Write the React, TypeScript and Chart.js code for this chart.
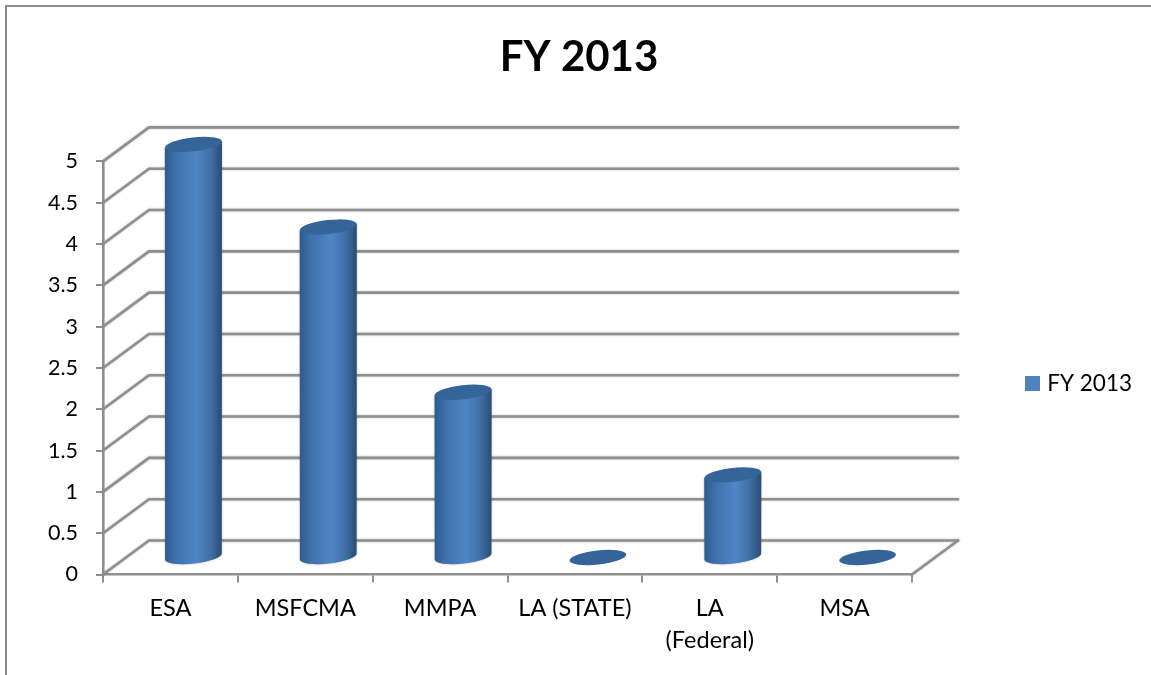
import React, { useEffect, useRef } from "react";
import { Chart, registerables } from "chart.js";

Chart.register(...registerables);

const categories: (string | string[])[] = ["ESA", "MSFCMA", "MMPA", "LA (STATE)", ["LA", "(Federal)"], "MSA"];
const values = [5, 4, 2, 0, 1, 0];
const seriesName = "FY 2013";
const titleText = "FY 2013";
const yMax = 5;
const yStep = 0.5;

const FONT = "Lato, Carlito, 'Open Sans', sans-serif";
const GRID = "#8f8f8f";
const DEPTH_X = 46;
const DEPTH_Y = 34;

const frame3d = {
  id: "frame3d",
  beforeDraw(chart: any) {
    const { ctx, width, height } = chart;
    ctx.save();
    ctx.fillStyle = "#fff";
    ctx.fillRect(0, 0, width, height);
    ctx.strokeStyle = "#8c8c8c";
    ctx.lineWidth = 2;
    ctx.beginPath();
    ctx.moveTo(6, height);
    ctx.lineTo(6, 6);
    ctx.lineTo(width, 6);
    ctx.stroke();
    ctx.restore();
  },
  afterLayout(chart: any) {
    const lg = chart.legend;
    if (lg) {
      lg.top += 46;
      lg.bottom += 46;
    }
  },
  beforeDatasetsDraw(chart: any) {
    const { ctx, scales } = chart;
    const y = scales.y;
    const x = scales.x;
    const left = x.left;
    const right = x.right;
    ctx.save();
    ctx.strokeStyle = GRID;
    ctx.lineWidth = 2.6;
    ctx.lineCap = "round";
    ctx.shadowColor = "rgba(120,120,120,0.5)";
    ctx.shadowBlur = 2;
    for (const t of y.ticks) {
      const py = y.getPixelForValue(t.value);
      ctx.beginPath();
      ctx.moveTo(left, py);
      ctx.lineTo(left + DEPTH_X, py - DEPTH_Y);
      ctx.lineTo(right + DEPTH_X, py - DEPTH_Y);
      ctx.stroke();
    }
    const p0 = y.getPixelForValue(0);
    ctx.beginPath();
    ctx.moveTo(right, p0);
    ctx.lineTo(right + DEPTH_X, p0 - DEPTH_Y);
    ctx.stroke();
    ctx.restore();

    const meta = chart.getDatasetMeta(0);
    const rot = (-6.4 * Math.PI) / 180;
    const ry = 7;
    meta.data.forEach((bar: any) => {
      const rx = bar.width / 2;
      const cx = bar.x + DEPTH_X / 2;
      const topY = bar.y - DEPTH_Y / 2;
      const baseY = bar.base - DEPTH_Y / 2;
      const dy = rx * Math.sin(rot);
      ctx.save();
      if (baseY - topY > 0.5) {
        const g = ctx.createLinearGradient(cx - rx, 0, cx + rx, 0);
        g.addColorStop(0, "#2f5b8d");
        g.addColorStop(0.2, "#3f72ad");
        g.addColorStop(0.55, "#4f85c6");
        g.addColorStop(0.8, "#3f6fa6");
        g.addColorStop(1, "#2b4c72");
        ctx.shadowColor = "rgba(90,90,90,0.55)";
        ctx.shadowBlur = 2;
        ctx.fillStyle = g;
        ctx.beginPath();
        ctx.ellipse(cx, baseY, rx, ry, rot, 0, Math.PI);
        ctx.lineTo(cx - rx, topY - dy);
        ctx.lineTo(cx + rx, topY + dy);
        ctx.closePath();
        ctx.fill();
        ctx.shadowColor = "transparent";
      }
      ctx.fillStyle = "#356499";
      ctx.beginPath();
      ctx.ellipse(cx, topY, rx, ry, rot, 0, Math.PI * 2);
      ctx.fill();
      ctx.restore();
    });
    return false;
  },
};

export default function App() {
  const ref = useRef<HTMLCanvasElement>(null);
  useEffect(() => {
    if (!ref.current) return;
    Chart.defaults.font.family = FONT;
    const chart = new Chart(ref.current, {
      type: "bar",
      data: {
        labels: categories as any,
        datasets: [
          {
            label: seriesName,
            data: values,
            backgroundColor: "#4f81bd",
            borderColor: "#4f81bd",
            borderWidth: 8,
            categoryPercentage: 1,
            barPercentage: 0.423,
          },
        ],
      },
      options: {
        responsive: false,
        animation: false,
        events: [],
        layout: { padding: { left: 16, right: 9 } },
        plugins: {
          title: {
            display: true,
            text: titleText,
            color: "#000",
            font: { size: 42, weight: "bold", family: FONT },
            padding: { top: 32, bottom: 79 },
          },
          legend: {
            display: true,
            position: "right",
            labels: {
              boxWidth: 7,
              boxHeight: 7,
              padding: 117,
              color: "#000",
              font: { size: 22.5, family: FONT },
            },
          },
          tooltip: { enabled: false },
        },
        scales: {
          x: {
            afterFit: (s: any) => {
              s.height = 100.5;
            },
            grid: { drawOnChartArea: false, drawTicks: true, tickLength: 8, color: GRID, lineWidth: 2 },
            border: { color: GRID, width: 2.6 },
            ticks: {
              color: "#000",
              padding: 9,
              maxRotation: 0,
              autoSkip: false,
              font: { size: 23.5, lineHeight: 1.4, family: FONT },
            },
          },
          y: {
            min: 0,
            max: yMax,
            afterFit: (s: any) => {
              s.width = 87;
            },
            grid: { drawOnChartArea: false, drawTicks: true, tickLength: 7, color: GRID, lineWidth: 2 },
            border: { color: GRID, width: 2.6 },
            ticks: {
              stepSize: yStep,
              color: "#000",
              padding: 18,
              font: { size: 21.5, family: FONT },
              callback: (v: any) => String(v),
            },
          },
        },
      },
      plugins: [frame3d],
    } as any);
    return () => chart.destroy();
  }, []);
  return (
    <canvas
      ref={ref}
      width={1151}
      height={675}
      style={{ position: "fixed", left: 0, top: 0, display: "block" }}
    />
  );
}
